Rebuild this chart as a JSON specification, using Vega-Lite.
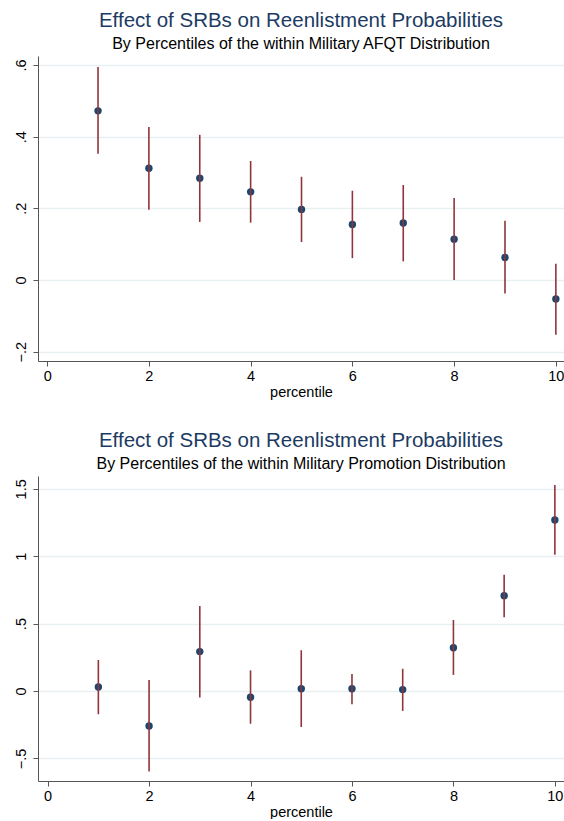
{
  "$schema": "https://vega.github.io/schema/vega-lite/v6.json",
  "padding": {"left": 13, "top": 10, "right": 0, "bottom": 0},
  "background": "white",
  "config": {
    "font": "Liberation Sans",
    "view": {"stroke": null},
    "title": {
      "font": "Liberation Sans",
      "fontSize": 20.5,
      "fontWeight": "normal",
      "color": "#1c3b63",
      "subtitleFont": "Liberation Sans",
      "subtitleFontSize": 16,
      "subtitleColor": "#000000",
      "anchor": "middle",
      "frame": "group",
      "offset": 4,
      "subtitlePadding": 5
    },
    "axis": {
      "domainColor": "#555555",
      "tickColor": "#555555",
      "labelColor": "#000000",
      "labelFont": "Liberation Sans",
      "labelFontSize": 14.5,
      "titleFont": "Liberation Sans",
      "titleFontSize": 14.5,
      "titleFontWeight": "normal",
      "titleColor": "#000000",
      "gridColor": "#e9f0f2",
      "gridWidth": 1.5,
      "tickSize": 5
    },
    "concat": {"spacing": 31}
  },
  "datasets": {
    "afqt": [
      {"percentile": 1, "effect": 0.472, "lo": 0.352, "hi": 0.594},
      {"percentile": 2, "effect": 0.312, "lo": 0.196, "hi": 0.427},
      {"percentile": 3, "effect": 0.284, "lo": 0.162, "hi": 0.405},
      {"percentile": 4, "effect": 0.246, "lo": 0.160, "hi": 0.332},
      {"percentile": 5, "effect": 0.197, "lo": 0.106, "hi": 0.288},
      {"percentile": 6, "effect": 0.155, "lo": 0.061, "hi": 0.249},
      {"percentile": 7, "effect": 0.159, "lo": 0.052, "hi": 0.265},
      {"percentile": 8, "effect": 0.114, "lo": 0.000, "hi": 0.229},
      {"percentile": 9, "effect": 0.063, "lo": -0.038, "hi": 0.165},
      {"percentile": 10, "effect": -0.053, "lo": -0.153, "hi": 0.045}
    ],
    "promotion": [
      {"percentile": 1, "effect": 0.030, "lo": -0.173, "hi": 0.230},
      {"percentile": 2, "effect": -0.260, "lo": -0.598, "hi": 0.082},
      {"percentile": 3, "effect": 0.292, "lo": -0.049, "hi": 0.631},
      {"percentile": 4, "effect": -0.047, "lo": -0.243, "hi": 0.153},
      {"percentile": 5, "effect": 0.017, "lo": -0.267, "hi": 0.302},
      {"percentile": 6, "effect": 0.017, "lo": -0.099, "hi": 0.126},
      {"percentile": 7, "effect": 0.010, "lo": -0.148, "hi": 0.165},
      {"percentile": 8, "effect": 0.321, "lo": 0.119, "hi": 0.527},
      {"percentile": 9, "effect": 0.707, "lo": 0.547, "hi": 0.863},
      {"percentile": 10, "effect": 1.269, "lo": 1.011, "hi": 1.528}
    ]
  },
  "vconcat": [
    {
      "title": {
        "text": "Effect of SRBs on Reenlistment Probabilities",
        "subtitle": "By Percentiles of the within Military AFQT Distribution"
      },
      "width": 526,
      "height": 305,
      "data": {"name": "afqt"},
      "encoding": {
        "x": {
          "field": "percentile",
          "type": "quantitative",
          "scale": {"domain": [-0.18, 10.16], "nice": false, "zero": false},
          "axis": {"values": [0, 2, 4, 6, 8, 10], "grid": false, "title": "percentile", "labelPadding": 3, "titlePadding": 3}
        }
      },
      "layer": [
        {
          "mark": {"type": "point", "filled": true, "shape": "circle", "size": 55, "color": "#1a476f", "opacity": 1},
          "encoding": {
            "y": {
              "field": "effect",
              "type": "quantitative",
              "title": null,
              "scale": {"domain": [-0.226, 0.625], "nice": false, "zero": false},
              "axis": {
                "values": [-0.2, 0, 0.2, 0.4, 0.6],
                "grid": true,
                "labelAngle": -90,
                "labelPadding": 5,
                "labelExpr": "replace(format(datum.value, '~g'), '0.', '.')"
              }
            }
          }
        },
        {
          "mark": {"type": "rule", "color": "#90353b", "strokeWidth": 1.6},
          "encoding": {
            "y": {"field": "lo", "type": "quantitative", "title": null},
            "y2": {"field": "hi"}
          }
        }
      ]
    },
    {
      "title": {
        "text": "Effect of SRBs on Reenlistment Probabilities",
        "subtitle": "By Percentiles of the within Military Promotion Distribution"
      },
      "width": 526,
      "height": 305,
      "data": {"name": "promotion"},
      "encoding": {
        "x": {
          "field": "percentile",
          "type": "quantitative",
          "scale": {"domain": [-0.19, 10.18], "nice": false, "zero": false},
          "axis": {"values": [0, 2, 4, 6, 8, 10], "grid": false, "title": "percentile", "labelPadding": 3, "titlePadding": 3}
        }
      },
      "layer": [
        {
          "mark": {"type": "point", "filled": true, "shape": "circle", "size": 55, "color": "#1a476f", "opacity": 1},
          "encoding": {
            "y": {
              "field": "effect",
              "type": "quantitative",
              "title": null,
              "scale": {"domain": [-0.668, 1.595], "nice": false, "zero": false},
              "axis": {
                "values": [-0.5, 0, 0.5, 1, 1.5],
                "grid": true,
                "labelAngle": -90,
                "labelPadding": 5,
                "labelExpr": "replace(format(datum.value, '~g'), '0.', '.')"
              }
            }
          }
        },
        {
          "mark": {"type": "rule", "color": "#90353b", "strokeWidth": 1.6},
          "encoding": {
            "y": {"field": "lo", "type": "quantitative", "title": null},
            "y2": {"field": "hi"}
          }
        }
      ]
    }
  ]
}
